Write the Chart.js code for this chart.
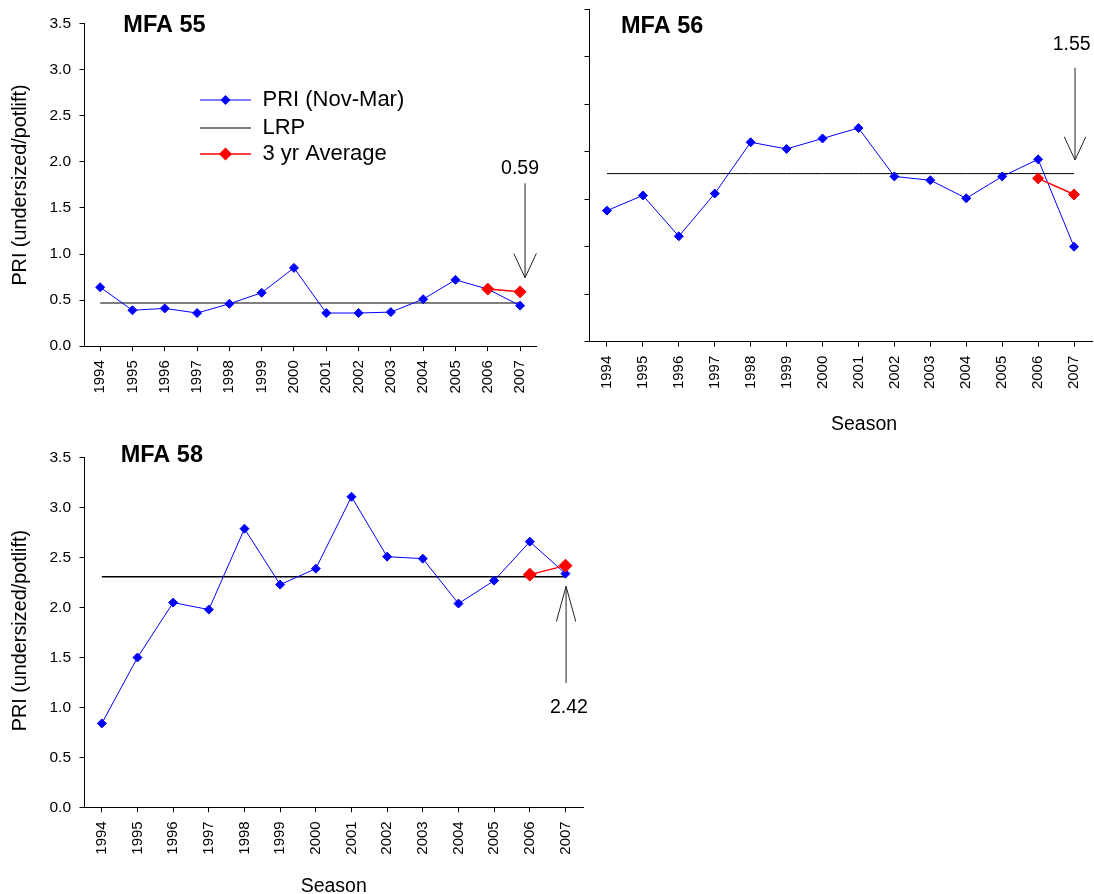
<!DOCTYPE html>
<html>
<head>
<meta charset="utf-8">
<script src="https://cdn.jsdelivr.net/npm/chart.js@4.4.1/dist/chart.umd.min.js"></script>
<style>
  html, body { margin: 0; padding: 0; background: #fff; overflow: hidden; }
  #wrap { position: relative; width: 1094px; height: 894px; overflow: hidden; }
  canvas { position: absolute; }
</style>
</head>
<body>
<div id="wrap">
  <canvas id="c55" width="560" height="440" style="left:0;top:0;width:560px;height:440px"></canvas>
  <canvas id="c56" width="570" height="440" style="left:540px;top:0;width:570px;height:440px"></canvas>
  <canvas id="c58" width="600" height="454" style="left:0;top:440px;width:600px;height:454px"></canvas>
</div>
<script>
// Seasons on the x axis
const seasons = ['1994','1995','1996','1997','1998','1999','2000','2001','2002','2003','2004','2005','2006','2007'];
const yTickLabels = ['0.0','0.5','1.0','1.5','2.0','2.5','3.0','3.5'];

// MFA 55
const pri55 = [0.64, 0.39, 0.41, 0.36, 0.46, 0.58, 0.85, 0.36, 0.36, 0.37, 0.51, 0.72, 0.62, 0.44];
const lrp55 = 0.47;
const avg55 = [null, null, null, null, null, null, null, null, null, null, null, null, 0.62, 0.59];

// MFA 56
const pri56 = [1.38, 1.54, 1.11, 1.56, 2.10, 2.03, 2.14, 2.25, 1.74, 1.70, 1.51, 1.74, 1.92, 1.00];
const lrp56 = 1.77;
const avg56 = [null, null, null, null, null, null, null, null, null, null, null, null, 1.72, 1.55];

// MFA 58
const pri58 = [0.84, 1.50, 2.05, 1.98, 2.79, 2.23, 2.39, 3.11, 2.51, 2.49, 2.04, 2.27, 2.66, 2.34];
const lrp58 = 2.31;
const avg58 = [null, null, null, null, null, null, null, null, null, null, null, null, 2.33, 2.42];

const FAMILY = '"Liberation Sans", Arial, Helvetica, sans-serif';
Chart.defaults.font.family = FAMILY;
Chart.defaults.color = '#000';

function diamond(ctx, x, y, r) {
  ctx.beginPath();
  ctx.moveTo(x, y - r);
  ctx.lineTo(x + r, y);
  ctx.lineTo(x, y + r);
  ctx.lineTo(x - r, y);
  ctx.closePath();
  ctx.fill();
}

// Free-standing text: panel headings and axis captions
const captionPlugin = {
  id: 'captions',
  afterDraw(chart, args, opts) {
    const ctx = chart.ctx;
    (opts.items || []).forEach(it => {
      ctx.save();
      ctx.font = it.font;
      ctx.fillStyle = '#000';
      ctx.textAlign = it.align || 'center';
      ctx.textBaseline = it.baseline || 'alphabetic';
      ctx.translate(it.x, it.y);
      if (it.rotate) ctx.rotate(it.rotate * Math.PI / 180);
      ctx.fillText(it.text, 0, 0);
      ctx.restore();
    });
  }
};

// Arrow pointing at the latest 3-year average, labelled with its value
const pointerPlugin = {
  id: 'pointer',
  afterDatasetsDraw(chart, args, o) {
    if (!o || o.index == null) return;
    const ctx = chart.ctx;
    const xs = chart.scales.x, ys = chart.scales.y;
    const x = xs.getPixelForValue(o.index) + (o.dx || 0);
    const yTip = ys.getPixelForValue(o.tip);
    const yTail = ys.getPixelForValue(o.tail);
    const wingY = yTip + (yTip > yTail ? -o.headL : o.headL);
    ctx.save();
    ctx.strokeStyle = '#222';
    ctx.lineWidth = 1;
    ctx.beginPath();
    ctx.moveTo(x, yTail);
    ctx.lineTo(x, yTip);
    ctx.moveTo(x - o.headW, wingY);
    ctx.lineTo(x, yTip);
    ctx.lineTo(x + o.headW, wingY);
    ctx.stroke();
    const avg = chart.data.datasets.find(d => d.label === '3 yr Average').data;
    const value = avg[o.index];
    ctx.fillStyle = '#000';
    ctx.font = '19.5px ' + FAMILY;
    ctx.textAlign = 'center';
    ctx.textBaseline = 'middle';
    ctx.fillText(value.toFixed(2), xs.getPixelForValue(o.index) + (o.labelDx || 0), ys.getPixelForValue(o.labelAt));
    ctx.restore();
  }
};

// Legend placed inside the plot area
const keyPlugin = {
  id: 'key',
  afterDraw(chart, args, o) {
    if (!o || !o.rows) return;
    const ctx = chart.ctx;
    chart.data.datasets.forEach((ds, i) => {
      const y = o.rows[i];
      ctx.save();
      ctx.strokeStyle = ds.borderColor;
      ctx.lineWidth = ds.borderWidth;
      ctx.beginPath();
      ctx.moveTo(o.x0, y);
      ctx.lineTo(o.x1, y);
      ctx.stroke();
      if (ds.pointRadius > 0) {
        ctx.fillStyle = ds.pointBackgroundColor;
        diamond(ctx, (o.x0 + o.x1) / 2, y, ds.pointRadius + 0.5);
      }
      ctx.fillStyle = '#000';
      ctx.font = o.font;
      ctx.textAlign = 'left';
      ctx.textBaseline = 'middle';
      ctx.fillText(ds.label, o.textX, y);
      ctx.restore();
    });
  }
};

function makeChart(id, cfg) {
  const datasets = [
    {
      label: 'PRI (Nov-Mar)', data: cfg.pri, order: 1,
      borderColor: '#0000ff', borderWidth: 1,
      pointStyle: 'rectRot', pointRadius: 4.5, pointBorderWidth: 1,
      pointBackgroundColor: '#0000ff', pointBorderColor: '#0000ff'
    },
    {
      label: 'LRP', data: seasons.map(() => cfg.lrp), order: 2,
      borderColor: cfg.lrpColor, borderWidth: cfg.lrpWidth, pointRadius: 0
    },
    {
      label: '3 yr Average', data: cfg.avg, order: 0,
      borderColor: '#ff0000', borderWidth: 1.5,
      pointStyle: 'rectRot', pointRadius: cfg.avgRadius, pointBorderWidth: 1,
      pointBackgroundColor: '#ff0000', pointBorderColor: '#ff0000'
    }
  ];
  return new Chart(document.getElementById(id), {
    type: 'line',
    data: { labels: seasons, datasets },
    options: {
      responsive: false,
      animation: false,
      events: [],
      layout: { padding: cfg.padding },
      plugins: {
        legend: { display: false },
        tooltip: { enabled: false },
        captions: { items: cfg.captions },
        pointer: cfg.pointer,
        key: cfg.key || {}
      },
      scales: {
        x: {
          type: 'category',
          offset: true,
          grid: { offset: false, drawOnChartArea: false, drawTicks: true, tickLength: 5, color: '#000', tickWidth: 1 },
          border: { color: '#000', width: 1 },
          ticks: { autoSkip: false, minRotation: 90, maxRotation: 90, padding: 9, color: '#000', font: { size: 15 } },
          afterFit: s => { s.height = cfg.xHeight; }
        },
        y: {
          min: 0, max: 3.5,
          grid: { drawOnChartArea: false, drawTicks: true, tickLength: 4.5, color: '#000', tickWidth: 1 },
          border: { color: '#000', width: 1 },
          ticks: {
            display: cfg.yLabels,
            stepSize: 0.5, padding: 8.5, color: '#000', font: { size: 15.5 },
            callback: (v, i) => yTickLabels[i]
          },
          afterFit: s => { s.width = cfg.yWidth; }
        }
      }
    },
    plugins: [captionPlugin, pointerPlugin, keyPlugin]
  });
}

const titleFont = 'bold 23.5px ' + FAMILY;
const axisFont = '19.8px ' + FAMILY;
const seasonFont = '19.5px ' + FAMILY;

makeChart('c55', {
  pri: pri55, lrp: lrp55, avg: avg55, lrpColor: '#555', lrpWidth: 1.5, avgRadius: 6,
  padding: { left: 0, right: 23.8, top: 23.7, bottom: 0 },
  yWidth: 84, xHeight: 93.8, yLabels: true,
  captions: [
    { text: 'MFA 55', font: titleFont, x: 123.3, y: 31.5, align: 'left' },
    { text: 'PRI (undersized/potlift)', font: axisFont, x: 21, y: 185, rotate: -90, baseline: 'middle' }
  ],
  pointer: { index: 13, dx: 5, tip: 0.743, tail: 1.768, headL: 24.3, headW: 11.3, labelAt: 1.931, labelDx: 0 },
  key: { x0: 200, x1: 251, textX: 262.5, rows: [100, 128, 154], font: '22px ' + FAMILY }
});

makeChart('c56', {
  pri: pri56, lrp: lrp56, avg: avg56, lrpColor: '#000', lrpWidth: 1, avgRadius: 5.5,
  padding: { left: 0, right: 18, top: 9.3, bottom: 0 },
  yWidth: 49, xHeight: 98.3, yLabels: false,
  captions: [
    { text: 'MFA 56', font: titleFont, x: 81, y: 33.3, align: 'left' },
    { text: 'Season', font: seasonFont, x: 324, y: 430 }
  ],
  pointer: { index: 13, dx: 1, tip: 1.913, tail: 2.885, headL: 23.3, headW: 10.8, labelAt: 3.133, labelDx: -2.3 }
});

makeChart('c58', {
  pri: pri58, lrp: lrp58, avg: avg58, lrpColor: '#000', lrpWidth: 1.5, avgRadius: 6.5,
  padding: { left: 0, right: 16.7, top: 14, bottom: 0 },
  yWidth: 84, xHeight: 86.7, yLabels: true,
  captions: [
    { text: 'MFA 58', font: titleFont, x: 120.7, y: 21.7, align: 'left' },
    { text: 'PRI (undersized/potlift)', font: axisFont, x: 21, y: 190.6, rotate: -90, baseline: 'middle' },
    { text: 'Season', font: seasonFont, x: 333.7, y: 451.7 }
  ],
  pointer: { index: 13, dx: 0.6, tip: 2.213, tail: 1.245, headL: 35.3, headW: 9.7, labelAt: 0.997, labelDx: 3.4 }
});
</script>
</body>
</html>
